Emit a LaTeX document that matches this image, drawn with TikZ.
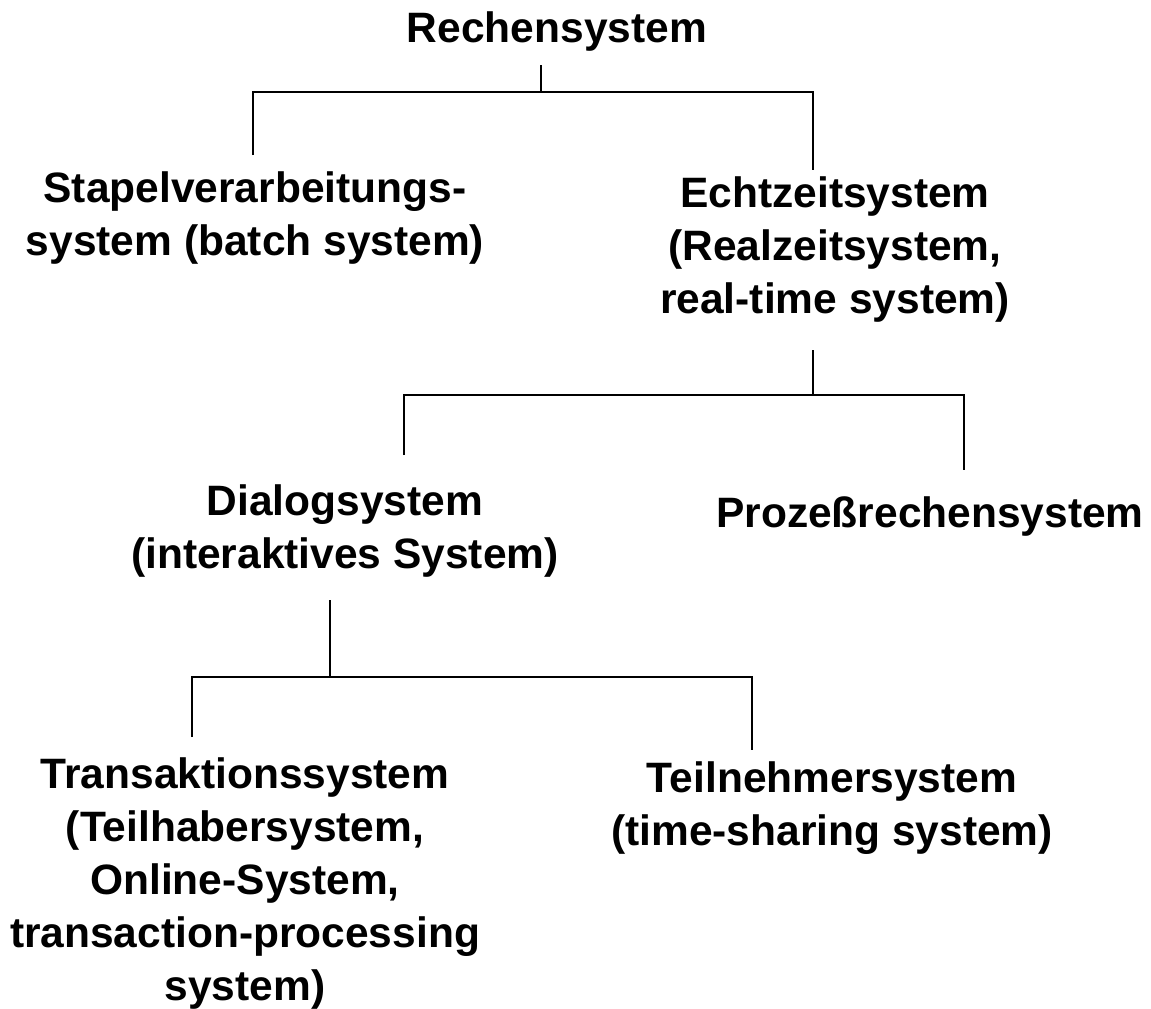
\documentclass[tikz,border=0pt]{standalone}
\usepackage{fontspec}
\setmainfont{Liberation Sans}
\begin{document}
\begin{tikzpicture}[x=1pt,y=-1pt,
  lbl/.style={inner sep=0pt,align=center,font=\fontsize{42.5}{53}\selectfont\bfseries},
  conn/.style={line width=1.6pt}]
\useasboundingbox (0,0) rectangle (1151,1009);
\node[lbl] (root) at (557,31.5) {Rechensystem};
\node[lbl] (stapel) at (255,218) {Stapelverarbeitungs-\\system (batch system)};
\node[lbl] (echt) at (835,249.5) {Echtzeitsystem\\(Realzeitsystem,\\real-time system)};
\node[lbl] (dialog) at (345,531) {Dialogsystem\\(interaktives System)};
\node[lbl] (prozess) at (930,516.5) {Prozeßrechensystem};
\node[lbl] (trans) at (245,883) {Transaktionssystem\\(Teilhabersystem,\\Online-System,\\transaction-processing\\system)};
\node[lbl] (teil) at (832,808) {Teilnehmersystem\\(time-sharing system)};
% junction coordinates
\coordinate (r0) at (541,65);
\coordinate (r1) at (541,92);
\coordinate (s0) at (253,155);
\coordinate (e0) at (813,170);
\coordinate (e1) at (813,350);
\coordinate (e2) at (813,395);
\coordinate (d0) at (404,455);
\coordinate (p0) at (964,470);
\coordinate (d1) at (330,600);
\coordinate (d2) at (330,677);
\coordinate (t0) at (192,737);
\coordinate (n0) at (752,750);
\draw[conn] (r0) -- (r1);
\draw[conn] (s0) |- (r1) -| (e0);
\draw[conn] (e1) -- (e2);
\draw[conn] (d0) |- (e2) -| (p0);
\draw[conn] (d1) -- (d2);
\draw[conn] (t0) |- (d2) -| (n0);
\end{tikzpicture}
\end{document}
